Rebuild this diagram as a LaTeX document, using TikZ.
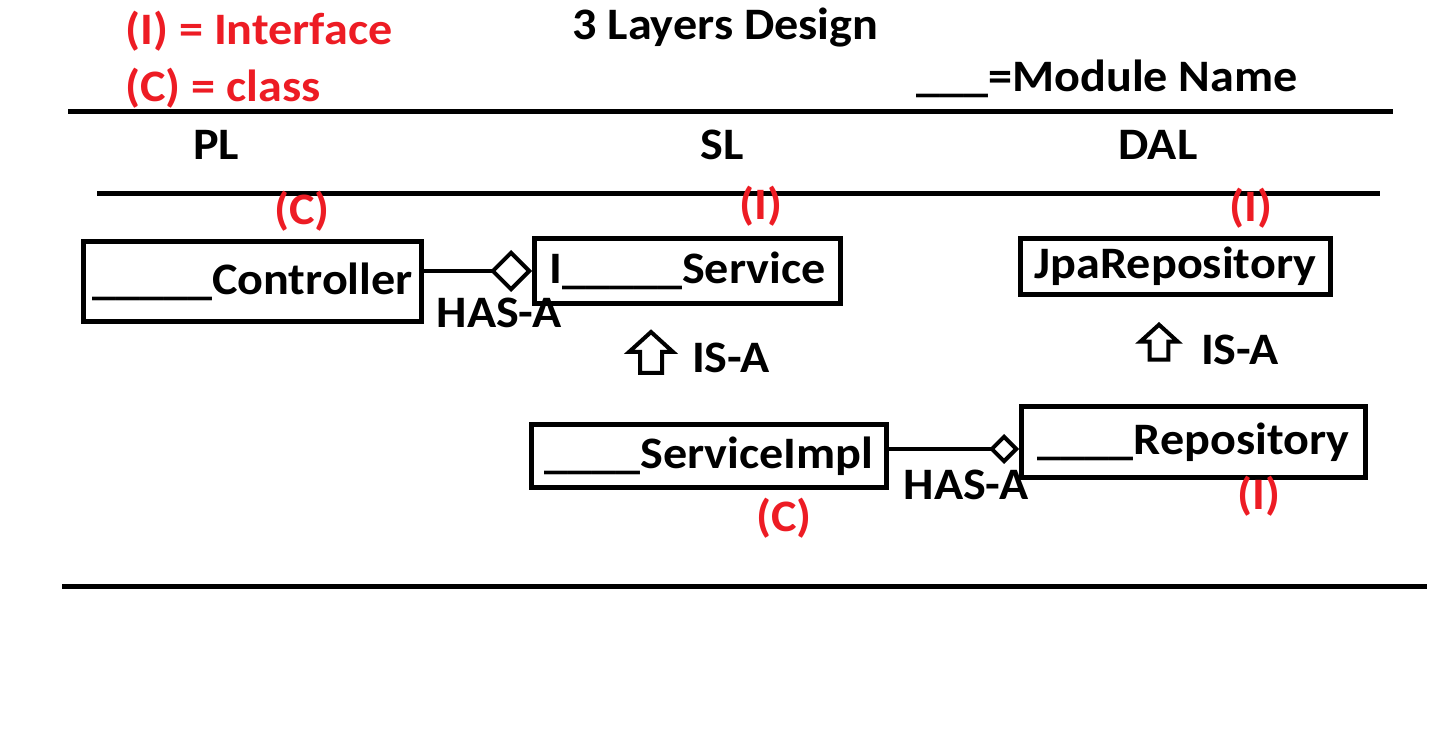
\documentclass[tikz,border=0pt]{standalone}
\usepackage{fontspec}
\setmainfont{Carlito}[FakeStretch=1.07]
\usetikzlibrary{arrows.meta}
\definecolor{notered}{RGB}{237,28,36}

\tikzset{
    isa/.pic={
        \draw[line width=2pt, line join=miter]
            (0,2) -- (22,22) -- (11,22) -- (11,43) -- (-11,43) -- (-11,22) -- (-22,22) -- cycle;
    },
}

\begin{document}
\begin{tikzpicture}
            [
                x=0.5pt, y=-0.5pt,
                txt/.style={font=\bfseries\fontsize{22.5pt}{27pt}\selectfont, inner sep=0pt},
                nota/.style={txt, text=notered},
                classe/.style={txt, draw, line width=2.5pt},
                camada/.style={line width=2.5pt},
                hasa/.style={line width=2pt, -{Diamond[open, length=#1, width=#1]}},
            ]
            \useasboundingbox (0,0) rectangle (1434,747);
            % legenda
            \node[nota, anchor=base west] (legI) at (125,45) {(I) = Interface};
            \node[nota, anchor=base west] (legC) at (125,102) {(C) = class};
            \node[txt, anchor=base west] (titulo) at (572,40) {3 Layers Design};
            \node[txt, anchor=base west] (modulo) at (916,92) {\_\_\_=Module Name};
            % camadas
            \draw[camada] (68,112) -- (1393,112);
            \draw[camada] (97,194) -- (1380,194);
            \draw[camada] (62,587) -- (1427,587);
            \node[txt, anchor=base] (pl) at (216,160) {PL};
            \node[txt, anchor=base] (sl) at (722,160) {SL};
            \node[txt, anchor=base] (dal) at (1158,160) {DAL};
            % classes
            \node[classe, minimum width=169pt, minimum height=40pt] (ctrl) at (252.5,281.5) {\_\_\_\_\_Controller};
            \node[classe, minimum width=153pt, minimum height=32.5pt] (svc) at (687.5,271) {I\_\_\_\_\_Service};
            \node[classe, minimum width=155pt, minimum height=28pt] (jpa) at (1175.5,266.5) {JpaRepository};
            \node[classe, minimum width=177.5pt, minimum height=31.5pt] (impl) at (709,456) {\_\_\_\_ServiceImpl};
            \node[classe, minimum width=172pt, minimum height=35.5pt] (repo) at (1193.5,442) {\_\_\_\_Repository};
            % tipos
            \node[nota, anchor=base] (tipoCtrl) at (302,225) {(C)};
            \node[nota, anchor=base] (tipoSvc) at (761,220) {(I)};
            \node[nota, anchor=base] (tipoJpa) at (1251,222) {(I)};
            \node[nota, anchor=base] (tipoImpl) at (784,532) {(C)};
            \node[nota, anchor=base] (tipoRepo) at (1259,510) {(I)};
            % HAS-A
            \draw[hasa=21pt] (svc.west -| ctrl.east) -- (svc.west);
            \node[txt, anchor=base] (has1) at (499,328) {HAS-A};
            \draw[hasa=15pt] ([yshift=3.5pt]impl.east) -- ([yshift=3.5pt]impl.east -| repo.west);
            \node[txt, anchor=base] (has2) at (966,500) {HAS-A};
            % IS-A
            \pic at (651,330) {isa};
            \node[txt, anchor=base] (isa1) at (731,373) {IS-A};
            \pic[scale=0.85] at (1159,323) {isa};
            \node[txt, anchor=base] (isa2) at (1240,365) {IS-A};
        \end{tikzpicture}
\end{document}
